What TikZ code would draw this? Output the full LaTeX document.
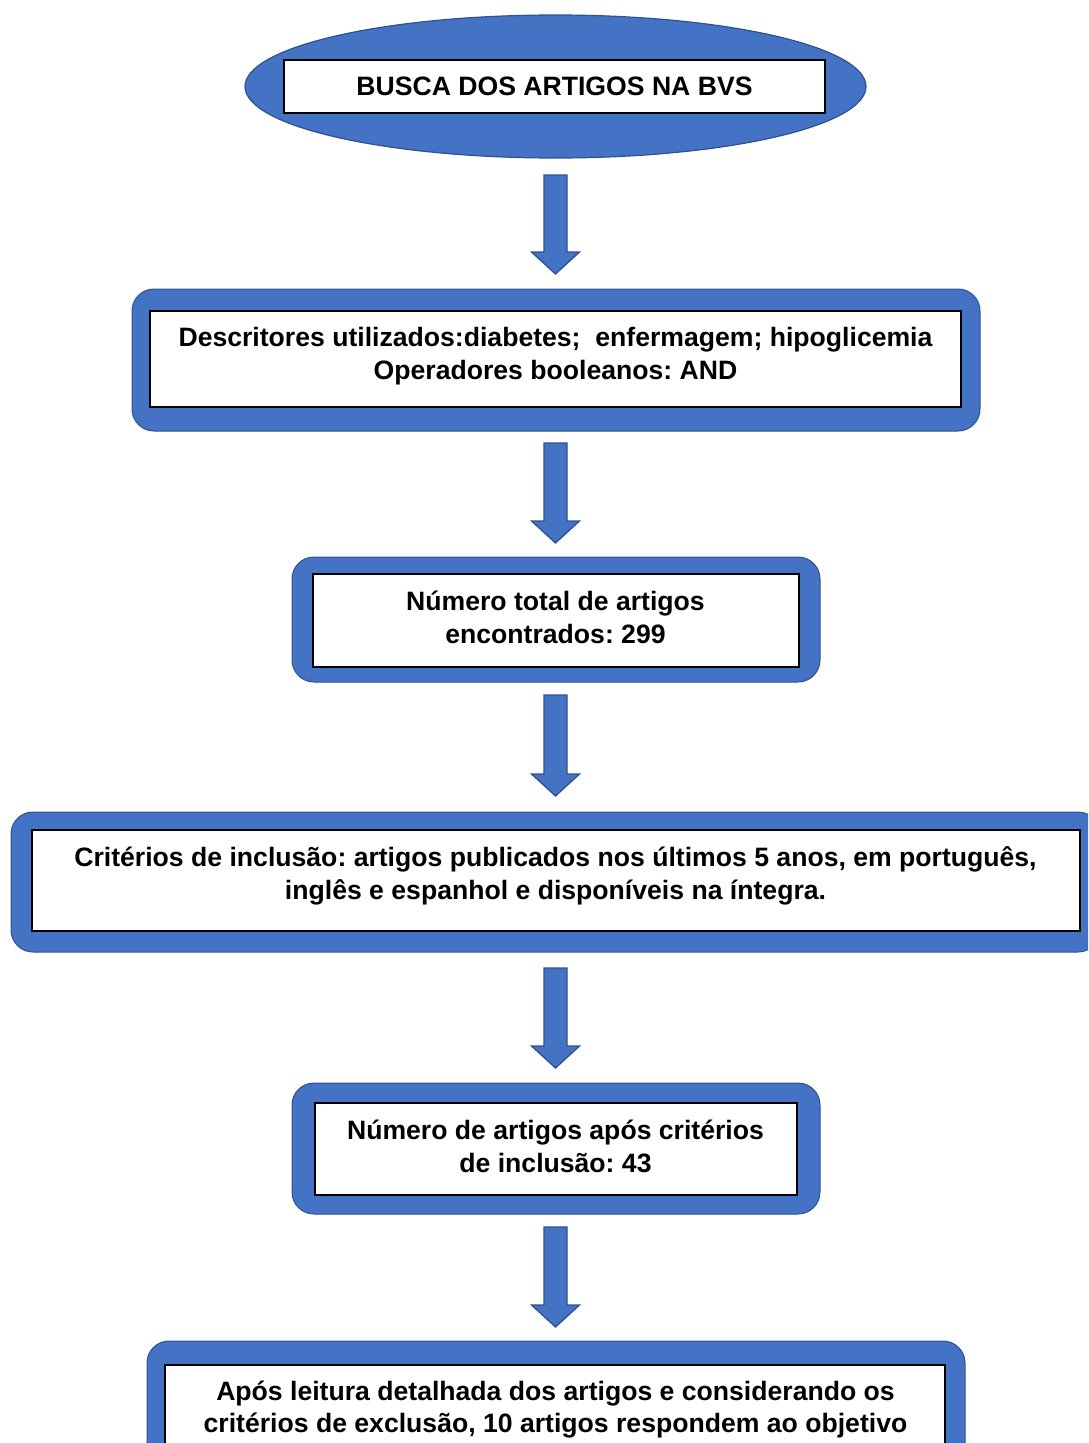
\documentclass[tikz,border=0pt]{standalone}
\usepackage{fontspec}
\setmainfont{Liberation Sans}
\usetikzlibrary{shapes.geometric}
\definecolor{blu}{HTML}{4472C4}
\definecolor{bluedge}{HTML}{2F528F}
\frenchspacing
\newcommand\blockarr[2]{%
  \draw[barrow] (544,#1) -- (567,#1) -- (567,#2-22) -- (579.5,#2-22) -- (555.5,#2)
    -- (531.5,#2-22) -- (544,#2-22) -- cycle;}
\begin{document}
\begin{tikzpicture}[x=1pt,y=-1pt,
  outerbox/.style={rectangle,fill=blu,draw=bluedge,line width=1pt,rounded corners=22pt,inner sep=0pt},
  innerbox/.style={rectangle,fill=white,draw=black,line width=1.3pt,inner sep=0pt},
  lbl/.style={font=\fontsize{26.6}{33}\selectfont\bfseries,inner sep=0pt,anchor=base},
  barrow/.style={fill=blu,draw=bluedge,line width=1.3pt,line join=miter}]
\useasboundingbox (0,0) rectangle (1088,1443);
\clip (0,0) rectangle (1088,1443);

% Step 1: ellipse
\node[ellipse,fill=blu,draw=bluedge,line width=1.2pt,inner sep=0pt,
      minimum width=621,minimum height=143] (e1) at (555.5,86.5) {};
\node[innerbox,minimum width=541,minimum height=53] (i1) at (554.5,86.5) {};
\node[lbl] (t1) at (554.5,95) {BUSCA DOS ARTIGOS NA BVS};

\blockarr{175}{274}

% Step 2
\node[outerbox,minimum width=848,minimum height=142] (o2) at (556,360) {};
\node[innerbox,minimum width=811,minimum height=96] (i2) at (555.5,359) {};
\node[lbl] (t2a) at (555.5,346) {Descritores utilizados:diabetes;\ \ enfermagem; hipoglicemia};
\node[lbl] (t2b) at (555.5,379) {Operadores booleanos: AND};

\blockarr{443}{543}

% Step 3
\node[outerbox,minimum width=528,minimum height=125] (o3) at (556,619.5) {};
\node[innerbox,minimum width=486,minimum height=93] (i3) at (556,620.5) {};
\node[lbl] (t3a) at (555.5,610) {Número total de artigos};
\node[lbl] (t3b) at (555.5,643) {encontrados: 299};

\blockarr{695}{796}

% Step 4
\node[outerbox,minimum width=1089,minimum height=140] (o4) at (555.5,882) {};
\node[innerbox,minimum width=1048,minimum height=101] (i4) at (556,880.5) {};
\node[lbl] (t4a) at (555.5,866) {Critérios de inclusão: artigos publicados nos últimos 5 anos, em português,};
\node[lbl] (t4b) at (555.5,899) {inglês e espanhol e disponíveis na íntegra.};

\blockarr{968}{1068}

% Step 5
\node[outerbox,minimum width=528,minimum height=131] (o5) at (556,1148.5) {};
\node[innerbox,minimum width=482,minimum height=92] (i5) at (556,1149) {};
\node[lbl] (t5a) at (555.5,1139) {Número de artigos após critérios};
\node[lbl] (t5b) at (555.5,1172) {de inclusão: 43};

\blockarr{1227}{1327}

% Step 6
\node[outerbox,minimum width=818,minimum height=220] (o6) at (556,1451) {};
\node[innerbox,minimum width=780,minimum height=172] (i6) at (555,1451) {};
\node[lbl] (t6a) at (555.5,1400) {Após leitura detalhada dos artigos e considerando os};
\node[lbl] (t6b) at (555.5,1432) {critérios de exclusão, 10 artigos respondem ao objetivo};
\end{tikzpicture}
\end{document}
